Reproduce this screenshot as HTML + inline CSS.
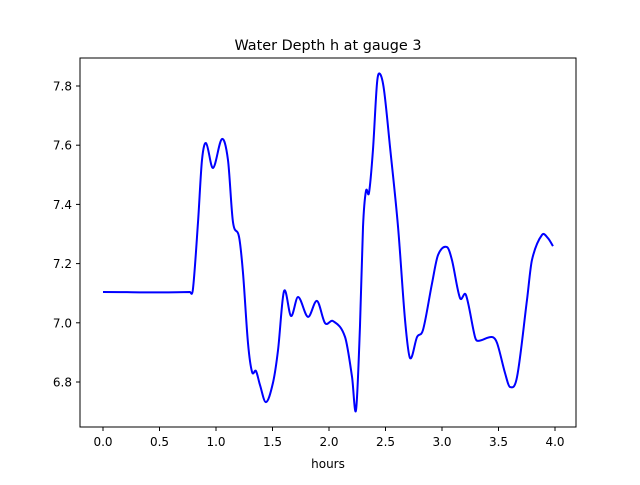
<!DOCTYPE html>
<html><head><meta charset="utf-8"><style>
body{margin:0;background:#fff}
svg text{font-family:"DejaVu Sans","Liberation Sans",sans-serif;fill:#000}
</style></head><body>
<svg id="chart" width="640" height="480">
<rect x="0" y="0" width="640" height="480" fill="#fff"/>
<text x="328" y="50" font-size="14.4" text-anchor="middle">Water Depth h at gauge 3</text>
<text x="328" y="468" font-size="12" text-anchor="middle">hours</text>
<g id="ticks"></g>
<path id="line" fill="none" stroke="#0000ff" stroke-width="2" stroke-linejoin="round"/>
<rect x="80" y="58" width="496" height="369" fill="none" stroke="#000" stroke-width="1"/>
</svg>
<script>
const hours=[0,0.77,0.796,0.841,0.876,0.912,0.973,1.053,1.106,1.15,1.204,1.239,1.283,1.319,1.354,1.389,1.442,1.504,1.549,1.602,1.664,1.726,1.814,1.894,1.965,2.035,2.142,2.204,2.239,2.274,2.301,2.327,2.354,2.389,2.425,2.451,2.487,2.54,2.611,2.673,2.717,2.779,2.832,2.912,2.965,3.044,3.088,3.159,3.212,3.292,3.319,3.442,3.487,3.558,3.602,3.664,3.752,3.796,3.885,3.938,3.982];
const depth=[7.104,7.104,7.114,7.341,7.55,7.607,7.523,7.621,7.55,7.341,7.29,7.168,6.932,6.834,6.837,6.79,6.732,6.797,6.908,7.107,7.023,7.087,7.02,7.074,6.999,7.006,6.952,6.817,6.705,6.986,7.324,7.445,7.439,7.584,7.81,7.841,7.786,7.594,7.324,7.009,6.881,6.952,6.976,7.134,7.229,7.256,7.212,7.084,7.094,6.952,6.939,6.952,6.932,6.83,6.783,6.817,7.077,7.212,7.297,7.286,7.259];
const xTicks=[0,0.5,1,1.5,2,2.5,3,3.5,4];
const xTickLabels=["0.0","0.5","1.0","1.5","2.0","2.5","3.0","3.5","4.0"];
const yTicks=[6.8,7.0,7.2,7.4,7.6,7.8];
const yTickLabels=["6.8","7.0","7.2","7.4","7.6","7.8"];
const X=v=>103+v*113;
const Y=v=>86+(7.8-v)*296;
const NS="http://www.w3.org/2000/svg";
const g=document.getElementById('ticks');
function mk(t,a){const e=document.createElementNS(NS,t);for(const k in a)e.setAttribute(k,a[k]);return e;}
xTicks.forEach((v,i)=>{
 const l=mk('line',{x1:X(v),x2:X(v),y1:427,y2:431,stroke:'#000'});
 
 
 g.appendChild(l);
 const t=mk('text',{x:X(v),y:446,'font-size':12,'text-anchor':'middle'});
 t.textContent=xTickLabels[i];
 
 
 g.appendChild(t);
});
yTicks.forEach((v,i)=>{
 const l=mk('line',{x1:76,x2:80,y1:Y(v),y2:Y(v),stroke:'#000'});
 
 
 g.appendChild(l);
 const t=mk('text',{x:72,y:Y(v)+4.5,'font-size':12,'text-anchor':'end'});
 t.textContent=yTickLabels[i];
 
 
 g.appendChild(t);
});
const P=hours.map((h,i)=>[X(h),Y(depth[i])]);
const n=P.length;
const m=P.map((p,i)=>{
 const a=P[Math.max(0,i-1)],b=P[Math.min(n-1,i+1)];
 return (b[1]-a[1])/(b[0]-a[0]);
});
let d='M'+P[0][0]+','+P[0][1];
for(let i=0;i<n-1;i++){
 const p1=P[i],p2=P[i+1],dx=(p2[0]-p1[0])/3;
 const c1=[p1[0]+dx,p1[1]+m[i]*dx];
 const c2=[p2[0]-dx,p2[1]-m[i+1]*dx];
 d+=' C'+c1[0].toFixed(2)+','+c1[1].toFixed(2)+' '+c2[0].toFixed(2)+','+c2[1].toFixed(2)+' '+p2[0].toFixed(2)+','+p2[1].toFixed(2);
}
document.getElementById('line').setAttribute('d',d);
</script>
</body></html>
